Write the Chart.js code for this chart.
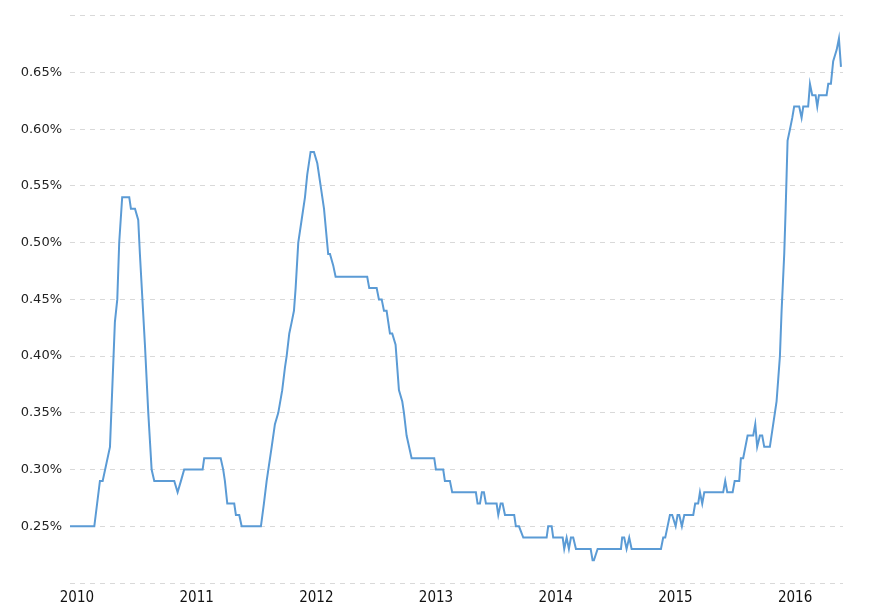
<!DOCTYPE html>
<html>
<head>
<meta charset="utf-8">
<script src="https://cdn.jsdelivr.net/npm/chart.js@4/dist/chart.umd.min.js"></script>
<style>
  html, body { margin: 0; padding: 0; background: #fff; }
  #wrap { width: 890px; height: 612px; }
</style>
</head>
<body>
<div id="wrap"><canvas id="myCanvas" width="890" height="612"></canvas></div>
<script>
// dates as decimal years, values in percent
const dates = [
    2009.942, 2010.145, 2010.192, 2010.215, 2010.276, 2010.317, 2010.337, 2010.353, 2010.378, 2010.437,
    2010.451, 2010.485, 2010.512, 2010.526, 2010.568, 2010.596, 2010.624, 2010.646, 2010.813, 2010.841,
    2010.869, 2010.896, 2011.050, 2011.063, 2011.201, 2011.222, 2011.236, 2011.256, 2011.314, 2011.328,
    2011.356, 2011.376, 2011.537, 2011.562, 2011.585, 2011.627, 2011.654, 2011.682, 2011.715, 2011.738,
    2011.752, 2011.774, 2011.794, 2011.813, 2011.827, 2011.849, 2011.877, 2011.905, 2011.924, 2011.952,
    2011.980, 2012.008, 2012.036, 2012.064, 2012.099, 2012.114, 2012.141, 2012.161, 2012.425, 2012.442,
    2012.504, 2012.523, 2012.546, 2012.565, 2012.587, 2012.615, 2012.634, 2012.662, 2012.690, 2012.718,
    2012.732, 2012.754, 2012.796, 2012.985, 2012.999, 2013.060, 2013.074, 2013.116, 2013.135, 2013.333,
    2013.347, 2013.367, 2013.383, 2013.400, 2013.417, 2013.506, 2013.520, 2013.540, 2013.556, 2013.576,
    2013.653, 2013.667, 2013.693, 2013.729, 2013.924, 2013.937, 2013.966, 2013.979, 2014.058, 2014.071,
    2014.091, 2014.110, 2014.127, 2014.146, 2014.169, 2014.292, 2014.308, 2014.319, 2014.350, 2014.545,
    2014.555, 2014.572, 2014.592, 2014.614, 2014.634, 2014.879, 2014.898, 2014.915, 2014.954, 2014.973,
    2015.002, 2015.018, 2015.032, 2015.054, 2015.074, 2015.149, 2015.165, 2015.190, 2015.205, 2015.224,
    2015.241, 2015.399, 2015.416, 2015.433, 2015.478, 2015.495, 2015.533, 2015.547, 2015.566, 2015.603,
    2015.650, 2015.667, 2015.683, 2015.706, 2015.725, 2015.742, 2015.789, 2015.817, 2015.845, 2015.859,
    2015.873, 2015.887, 2015.896, 2015.909, 2015.921, 2015.929, 2015.937, 2015.957, 2015.976, 2015.992,
    2016.034, 2016.054, 2016.068, 2016.109, 2016.124, 2016.143, 2016.171, 2016.185, 2016.199, 2016.263,
    2016.277, 2016.299, 2016.318, 2016.347, 2016.366, 2016.383
];

const yieldPct = [
    0.25, 0.25, 0.29, 0.29, 0.32, 0.43, 0.45, 0.50, 0.54, 0.54,
    0.53, 0.53, 0.52, 0.49, 0.41, 0.35, 0.30, 0.29, 0.29, 0.28,
    0.29, 0.30, 0.30, 0.31, 0.31, 0.30, 0.29, 0.27, 0.27, 0.26,
    0.26, 0.25, 0.25, 0.27, 0.29, 0.32, 0.34, 0.35, 0.37, 0.39,
    0.40, 0.42, 0.43, 0.44, 0.46, 0.50, 0.52, 0.54, 0.56, 0.58,
    0.58, 0.57, 0.55, 0.53, 0.49, 0.49, 0.48, 0.47, 0.47, 0.46,
    0.46, 0.45, 0.45, 0.44, 0.44, 0.42, 0.42, 0.41, 0.37, 0.36,
    0.35, 0.33, 0.31, 0.31, 0.30, 0.30, 0.29, 0.29, 0.28, 0.28,
    0.27, 0.27, 0.28, 0.28, 0.27, 0.27, 0.26, 0.27, 0.27, 0.26,
    0.26, 0.25, 0.25, 0.24, 0.24, 0.25, 0.25, 0.24, 0.24, 0.23,
    0.24, 0.23, 0.24, 0.24, 0.23, 0.23, 0.22, 0.22, 0.23, 0.23,
    0.24, 0.24, 0.23, 0.24, 0.23, 0.23, 0.24, 0.24, 0.26, 0.26,
    0.25, 0.26, 0.26, 0.25, 0.26, 0.26, 0.27, 0.27, 0.28, 0.27,
    0.28, 0.28, 0.29, 0.28, 0.28, 0.29, 0.29, 0.31, 0.31, 0.33,
    0.33, 0.34, 0.32, 0.33, 0.33, 0.32, 0.32, 0.34, 0.36, 0.38,
    0.40, 0.44, 0.46, 0.49, 0.53, 0.56, 0.59, 0.60, 0.61, 0.62,
    0.62, 0.61, 0.62, 0.62, 0.64, 0.63, 0.63, 0.62, 0.63, 0.63,
    0.64, 0.64, 0.66, 0.67, 0.68, 0.655
];

const yearTicks = [2010, 2011, 2012, 2013, 2014, 2015, 2016];
const yTicks = [0.20, 0.25, 0.30, 0.35, 0.40, 0.45, 0.50, 0.55, 0.60, 0.65, 0.70];

const points = dates.map((d, i) => ({ x: d, y: yieldPct[i] }));

const ctx = document.getElementById('myCanvas').getContext('2d');
new Chart(ctx, {
    type: 'line',
    data: {
        datasets: [{
            data: points,
            borderColor: '#5b9bd5',
            borderWidth: 2,
            pointRadius: 0,
            tension: 0,
            fill: false
        }]
    },
    options: {
        responsive: false,
        animation: false,
        layout: { padding: { top: 15, right: 47, bottom: 0, left: 0 } },
        plugins: {
            legend: { display: false },
            tooltip: { enabled: false }
        },
        scales: {
            x: {
                type: 'linear',
                min: 2009.942,
                max: 2016.40,
                afterBuildTicks: axis => { axis.ticks = yearTicks.map(v => ({ value: v })); },
                afterFit: axis => { axis.height = 29; },
                grid: { display: false, drawTicks: false },
                border: { display: false },
                ticks: {
                    padding: 6,
                    maxRotation: 0,
                    color: '#111',
                    font: { family: 'DejaVu Sans Condensed', size: 15 },
                    callback: v => String(v)
                }
            },
            y: {
                min: 0.20,
                max: 0.70,
                afterBuildTicks: axis => { axis.ticks = yTicks.map(v => ({ value: v })); },
                afterFit: axis => { axis.width = 70; },
                grid: { color: '#d9d9d9', drawTicks: false, lineWidth: 1 },
                border: { display: false, dash: [5, 5] },
                ticks: {
                    padding: 8,
                    color: '#222',
                    font: { family: 'DejaVu Sans', size: 13 },
                    callback: v => (Math.abs(v - 0.2) < 1e-6 || Math.abs(v - 0.7) < 1e-6) ? '' : v.toFixed(2) + '%'
                }
            }
        }
    }
});
</script>
</body>
</html>
